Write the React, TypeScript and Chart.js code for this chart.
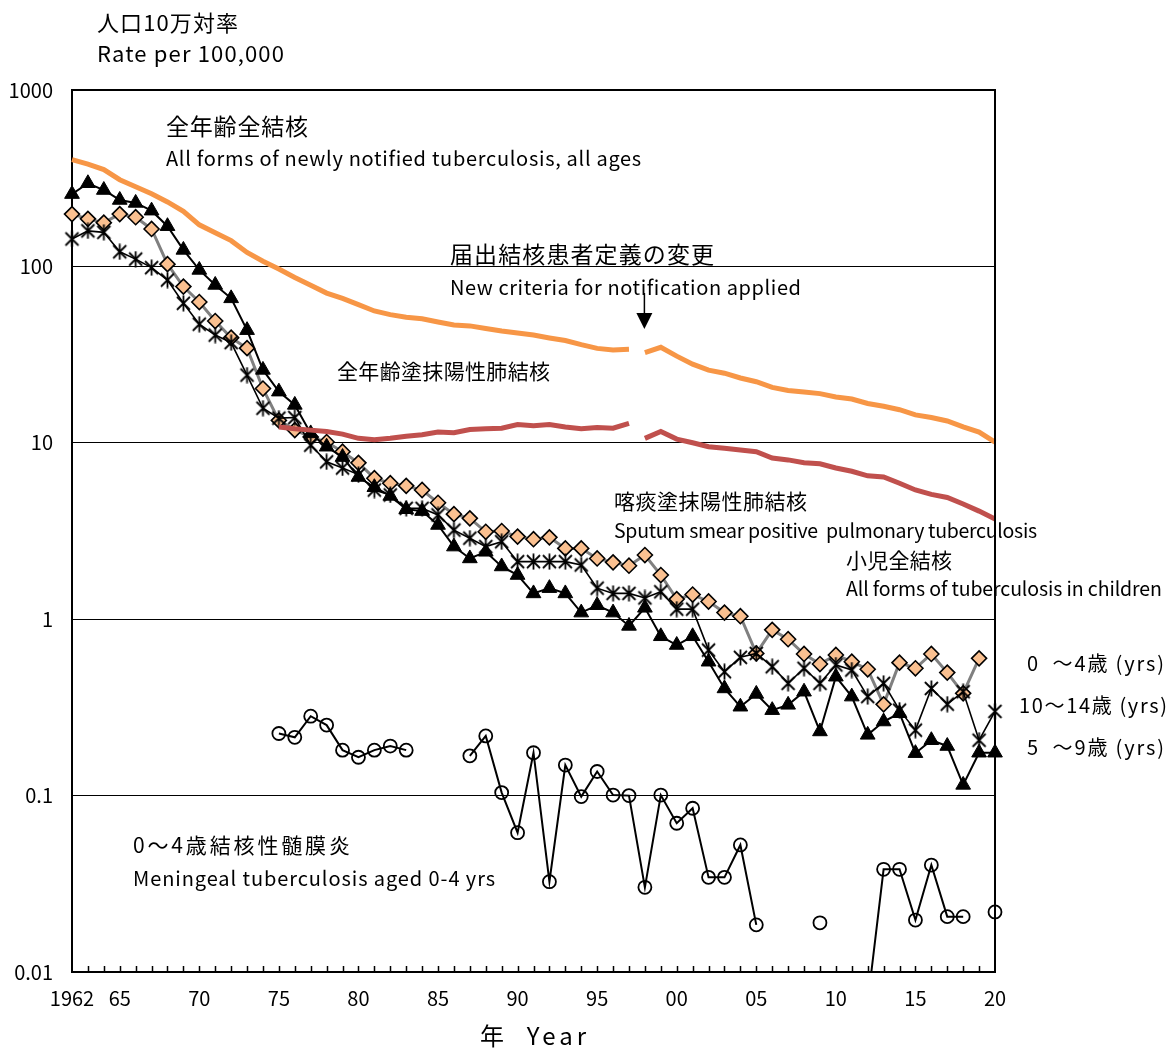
import React, { useEffect, useRef } from "react";
import { Chart, registerables } from "chart.js";

Chart.register(...registerables);

// ---------- data ----------
const years = [
  1962, 1963, 1964, 1965, 1966, 1967, 1968, 1969, 1970, 1971, 1972, 1973, 1974, 1975, 1976,
  1977, 1978, 1979, 1980, 1981, 1982, 1983, 1984, 1985, 1986, 1987, 1988, 1989, 1990, 1991,
  1992, 1993, 1994, 1995, 1996, 1997, 1998, 1999, 2000, 2001, 2002, 2003, 2004, 2005, 2006,
  2007, 2008, 2009, 2010, 2011, 2012, 2013, 2014, 2015, 2016, 2017, 2018, 2019, 2020,
];

// All forms, all ages (old notification criteria) 1962-1997
const yearsOld = [
  1962, 1963, 1964, 1965, 1966, 1967, 1968, 1969, 1970, 1971, 1972, 1973, 1974, 1975, 1976,
  1977, 1978, 1979, 1980, 1981, 1982, 1983, 1984, 1985, 1986, 1987, 1988, 1989, 1990, 1991,
  1992, 1993, 1994, 1995, 1996, 1997,
];
const allAgesOld = [
  403, 380, 354, 310, 283, 258, 232, 205, 172, 155, 140, 120, 107, 96.6, 86.6,
  78.2, 70.6, 65.8, 60.7, 55.9, 53.3, 51.5, 50.5, 48.4, 46.5, 46.0, 44.5, 43.0, 41.9, 40.8,
  39.3, 38.0, 36.0, 34.3, 33.6, 33.9,
];
// New criteria 1998-2020
const yearsNew = [
  1998, 1999, 2000, 2001, 2002, 2003, 2004, 2005, 2006, 2007, 2008, 2009, 2010, 2011, 2012,
  2013, 2014, 2015, 2016, 2017, 2018, 2019, 2020,
];
const allAgesNew = [
  32.5, 34.8, 31.0, 27.9, 25.8, 24.8, 23.3, 22.2, 20.6, 19.8, 19.4, 19.0, 18.2, 17.7, 16.7,
  16.1, 15.4, 14.4, 13.9, 13.3, 12.3, 11.5, 10.1,
];

// Smear positive pulmonary TB, all ages
const yearsSmearOld = [
  1975, 1976, 1977, 1978, 1979, 1980, 1981, 1982, 1983, 1984, 1985, 1986, 1987, 1988, 1989,
  1990, 1991, 1992, 1993, 1994, 1995, 1996, 1997,
];
const smearOld = [
  12.3, 12.0, 11.8, 11.6, 11.2, 10.6, 10.4, 10.6, 10.9, 11.1, 11.5, 11.4, 11.9, 12.0, 12.1,
  12.7, 12.5, 12.7, 12.3, 12.0, 12.2, 12.1, 12.9,
];
const smearNew = [
  10.6, 11.6, 10.5, 10.0, 9.5, 9.3, 9.1, 8.9, 8.2, 8.0, 7.7, 7.6, 7.2, 6.9, 6.5,
  6.4, 5.9, 5.4, 5.1, 4.9, 4.5, 4.1, 3.7,
];

// Children, all forms: 0-4 yrs
const age0to4 = [
  198, 186, 177, 198, 190, 163, 103, 76.8, 62.8, 49.0, 39.4, 34.4, 20.3, 13.4, 11.8,
  10.8, 10.1, 8.9, 7.7, 6.3, 5.9, 5.7, 5.4, 4.57, 3.94, 3.73, 3.13, 3.16, 2.94, 2.84,
  2.91, 2.52, 2.52, 2.21, 2.10, 2.01, 2.31, 1.78, 1.30, 1.38, 1.26, 1.09, 1.04, 0.64, 0.87,
  0.77, 0.635, 0.557, 0.627, 0.574, 0.52, 0.329, 0.567, 0.527, 0.635, 0.498, 0.38, 0.60, null,
];
// 5-9 yrs
const age5to9 = [
  257, 296, 271, 238, 229, 207, 169, 124, 95.5, 78.5, 65.9, 43.5, 25.9, 19.5, 16.4,
  11.3, 9.5, 8.3, 6.4, 5.6, 5.0, 4.2, 4.1, 3.42, 2.58, 2.21, 2.41, 1.99, 1.78, 1.40,
  1.50, 1.40, 1.09, 1.20, 1.09, 0.916, 1.16, 0.80, 0.714, 0.80, 0.574, 0.405, 0.319, 0.377, 0.305,
  0.327, 0.388, 0.231, 0.472, 0.364, 0.221, 0.263, 0.293, 0.174, 0.206, 0.191, 0.115, 0.175, 0.175,
];
// 10-14 yrs
const age10to14 = [
  143, 159, 156, 121, 110, 98.4, 83.7, 61.8, 47.0, 40.8, 37.0, 24.2, 15.7, 13.8, 13.9,
  9.7, 7.8, 7.2, 6.6, 5.4, 5.06, 4.25, 4.25, 3.9, 3.2, 2.88, 2.58, 2.75, 2.12, 2.12,
  2.12, 2.12, 2.03, 1.50, 1.40, 1.40, 1.32, 1.43, 1.14, 1.14, 0.668, 0.504, 0.608, 0.64, 0.538,
  0.433, 0.527, 0.433, 0.55, 0.515, 0.364, 0.433, 0.305, 0.235, 0.405, 0.330, 0.388, 0.206, 0.30,
];
// Meningeal TB aged 0-4
const meningeal = [
  null, null, null, null, null, null, null, null, null, null, null, null, null, 0.225, 0.214,
  0.282, 0.251, 0.181, 0.165, 0.181, 0.191, 0.181, null, null, null, 0.168, 0.218, 0.104, 0.0616, 0.175,
  0.0325, 0.149, 0.0987, 0.137, 0.1007, 0.100, 0.0302, 0.1007, 0.0697, 0.0848, 0.0344, 0.0344, 0.0525, 0.0185, null,
  null, null, 0.019, null, null, 0.0067, 0.0382, 0.0382, 0.0197, 0.0404, 0.0206, 0.0206, null, 0.0219,
];

const xTickYears = [1962, 1965, 1970, 1975, 1980, 1985, 1990, 1995, 2000, 2005, 2010, 2015, 2020];
const xTickLabels = ["1962", "65", "70", "75", "80", "85", "90", "95", "00", "05", "10", "15", "20"];
const yTicks = [0.01, 0.1, 1, 10, 100, 1000];
const yTickLabels = ["0.01", "0.1", "1", "10", "100", "1000"];

const FONT = '"Noto Sans CJK JP", "Noto Sans", sans-serif';

// text annotations: left x, middle y, font size, target width
type Label = { text: string; x: number; y: number; size: number; w: number };
const labels: Label[] = [
  { text: "人口10万対率", x: 97, y: 23, size: 22, w: 141 },
  { text: "Rate per 100,000", x: 97, y: 54, size: 22, w: 187 },
  { text: "全年齢全結核", x: 166, y: 126, size: 23, w: 142 },
  { text: "All forms of newly notified tuberculosis, all ages", x: 166, y: 158, size: 20, w: 475 },
  { text: "届出結核患者定義の変更", x: 450, y: 254, size: 23, w: 264 },
  { text: "New criteria for notification applied", x: 450, y: 287, size: 20, w: 351 },
  { text: "全年齢塗抹陽性肺結核", x: 337, y: 371, size: 21, w: 213 },
  { text: "喀痰塗抹陽性肺結核", x: 614, y: 501, size: 21, w: 193 },
  { text: "Sputum smear positive  pulmonary tuberculosis", x: 614, y: 531, size: 19.5, w: 423 },
  { text: "小児全結核", x: 846, y: 560, size: 21, w: 106 },
  { text: "All forms of tuberculosis in children", x: 846, y: 589, size: 19.5, w: 316 },
  { text: "0  ～4歳 (yrs)", x: 1027, y: 663, size: 20, w: 137 },
  { text: "10～14歳 (yrs)", x: 1019, y: 705, size: 20, w: 148 },
  { text: "5  ～9歳 (yrs)", x: 1027, y: 747, size: 20, w: 137 },
  { text: "0～4歳結核性髄膜炎", x: 133, y: 845, size: 21, w: 217 },
  { text: "Meningeal tuberculosis aged 0-4 yrs", x: 133, y: 878, size: 20, w: 362 },
  { text: "年  Year", x: 480, y: 1036, size: 24, w: 106 },
];

function pts(xs: number[], ys: (number | null)[]) {
  return ys.map((y, i) => ({ x: xs[i], y }));
}

function makeStar(): HTMLCanvasElement {
  const c = document.createElement("canvas");
  c.width = 17;
  c.height = 17;
  const g = c.getContext("2d")!;
  g.strokeStyle = "#000";
  g.lineWidth = 1.8;
  g.beginPath();
  g.moveTo(2, 2);
  g.lineTo(15, 15);
  g.moveTo(15, 2);
  g.lineTo(2, 15);
  g.moveTo(8.5, 0.5);
  g.lineTo(8.5, 16.5);
  g.stroke();
  return c;
}

function drawFitted(ctx: any, l: Label) {
  ctx.font = `${l.size}px ${FONT}`;
  const n = Array.from(l.text).length;
  if ("letterSpacing" in ctx) {
    ctx.letterSpacing = "0px";
    const m = ctx.measureText(l.text).width;
    const ls = n > 1 ? (l.w - m) / (n - 1) : 0;
    ctx.letterSpacing = `${ls.toFixed(2)}px`;
    ctx.fillText(l.text, l.x, l.y);
    ctx.letterSpacing = "0px";
  } else {
    const m = ctx.measureText(l.text).width;
    ctx.save();
    ctx.translate(l.x, l.y);
    ctx.scale(l.w / m, 1);
    ctx.fillText(l.text, 0, 0);
    ctx.restore();
  }
}

const decorPlugin = {
  id: "decor",
  afterDraw(chart: any) {
    const { ctx, chartArea } = chart;
    const xs = chart.scales.x;
    ctx.save();
    // frame: top and right
    ctx.strokeStyle = "#000";
    ctx.lineWidth = 2;
    ctx.beginPath();
    ctx.moveTo(chartArea.left, chartArea.top);
    ctx.lineTo(chartArea.right, chartArea.top);
    ctx.lineTo(chartArea.right, chartArea.bottom);
    ctx.stroke();
    // minor year ticks pointing inward
    ctx.lineWidth = 1.5;
    ctx.beginPath();
    for (const yr of years) {
      if (yr === years[0] || yr === years[years.length - 1]) continue;
      const px = Math.round(xs.getPixelForValue(yr)) + 0.5;
      ctx.moveTo(px, chartArea.bottom);
      ctx.lineTo(px, chartArea.bottom - 6);
    }
    ctx.stroke();
    // arrow for new criteria
    const ax = xs.getPixelForValue(1998) - 0.5;
    ctx.lineWidth = 1.5;
    ctx.beginPath();
    ctx.moveTo(ax, 293);
    ctx.lineTo(ax, 314);
    ctx.stroke();
    ctx.fillStyle = "#000";
    ctx.beginPath();
    ctx.moveTo(ax - 8, 313);
    ctx.lineTo(ax + 8, 313);
    ctx.lineTo(ax, 329);
    ctx.closePath();
    ctx.fill();
    // text annotations
    ctx.fillStyle = "#000";
    ctx.textBaseline = "middle";
    ctx.textAlign = "left";
    for (const l of labels) drawFitted(ctx, l);
    ctx.restore();
  },
};

export default function App() {
  const ref = useRef<HTMLCanvasElement>(null);
  useEffect(() => {
    const star = makeStar();
    const clipSides = { left: 20, right: 20, top: 20, bottom: 20 };
    const chart = new Chart(ref.current!, {
      type: "line",
      data: {
        datasets: [
          {
            label: "全年齢全結核 (旧)",
            data: pts(yearsOld, allAgesOld),
            borderColor: "#F79646",
            borderWidth: 5,
            pointRadius: 0,
            order: 1,
            clip: clipSides,
          },
          {
            label: "全年齢全結核 (新)",
            data: pts(yearsNew, allAgesNew),
            borderColor: "#F79646",
            borderWidth: 5,
            pointRadius: 0,
            order: 1,
            clip: clipSides,
          },
          {
            label: "喀痰塗抹陽性肺結核 (旧)",
            data: pts(yearsSmearOld, smearOld),
            borderColor: "#C0504D",
            borderWidth: 5,
            pointRadius: 0,
            order: 2,
            clip: clipSides,
          },
          {
            label: "喀痰塗抹陽性肺結核 (新)",
            data: pts(yearsNew, smearNew),
            borderColor: "#C0504D",
            borderWidth: 5,
            pointRadius: 0,
            order: 2,
            clip: clipSides,
          },
          {
            label: "0～4歳結核性髄膜炎",
            data: pts(years, meningeal),
            borderColor: "#000",
            borderWidth: 2,
            pointStyle: "circle",
            pointRadius: 6.5,
            pointBackgroundColor: "rgba(0,0,0,0)",
            pointBorderColor: "#000",
            pointBorderWidth: 1.8,
            order: 3,
            clip: { left: 20, right: 20, top: 20, bottom: 0 },
          },
          {
            label: "10～14歳",
            data: pts(years, age10to14),
            borderColor: "#000",
            borderWidth: 1.6,
            pointStyle: star as any,
            pointRadius: 8,
            order: 4,
            clip: clipSides,
          },
          {
            label: "5～9歳",
            data: pts(years, age5to9),
            borderColor: "#000",
            borderWidth: 2,
            pointStyle: "triangle",
            pointRadius: 8.5,
            pointBackgroundColor: "#000",
            pointBorderColor: "#000",
            pointBorderWidth: 1,
            order: 5,
            clip: clipSides,
          },
          {
            label: "0～4歳",
            data: pts(years, age0to4),
            borderColor: "#808080",
            borderWidth: 3,
            pointStyle: "rectRot",
            pointRadius: 7.5,
            pointBackgroundColor: "#FAC090",
            pointBorderColor: "#000",
            pointBorderWidth: 1.6,
            order: 6,
            clip: clipSides,
          },
        ] as any,
      },
      options: {
        responsive: true,
        maintainAspectRatio: false,
        animation: false,
        devicePixelRatio: 1,
        layout: { padding: { top: 90, right: 178, left: 0, bottom: 0 } },
        plugins: {
          legend: { display: false },
          tooltip: { enabled: false },
        },
        scales: {
          x: {
            type: "linear",
            min: 1962,
            max: 2020,
            afterBuildTicks: (s: any) => {
              s.ticks = xTickYears.map((v) => ({ value: v }));
            },
            afterFit: (s: any) => {
              s.height = 81;
            },
            grid: { display: false, drawTicks: false },
            border: { display: true, color: "#000", width: 2 },
            ticks: {
              padding: 14,
              color: "#000",
              autoSkip: false,
              maxRotation: 0,
              font: { family: FONT, size: 20 },
              callback: (v: any) => {
                const i = xTickYears.indexOf(Number(v));
                return i >= 0 ? xTickLabels[i] : "";
              },
            },
          },
          y: {
            type: "logarithmic",
            min: 0.01,
            max: 1000,
            afterBuildTicks: (s: any) => {
              s.ticks = yTicks.map((v) => ({ value: v }));
            },
            afterFit: (s: any) => {
              s.width = 72;
            },
            grid: { color: "#000", lineWidth: 1, drawTicks: false },
            border: { display: true, color: "#000", width: 2 },
            ticks: {
              padding: 19,
              color: "#000",
              autoSkip: false,
              font: { family: FONT, size: 20 },
              callback: (v: any) => {
                const i = yTicks.findIndex((t) => Math.abs(t - Number(v)) < t * 1e-6);
                return i >= 0 ? yTickLabels[i] : "";
              },
            },
          },
        },
      } as any,
      plugins: [decorPlugin],
    });
    return () => chart.destroy();
  }, []);
  return (
    <div style={{ position: "absolute", left: 0, top: 0, width: 1173, height: 1053, background: "#fff" }}>
      <canvas ref={ref} />
    </div>
  );
}
